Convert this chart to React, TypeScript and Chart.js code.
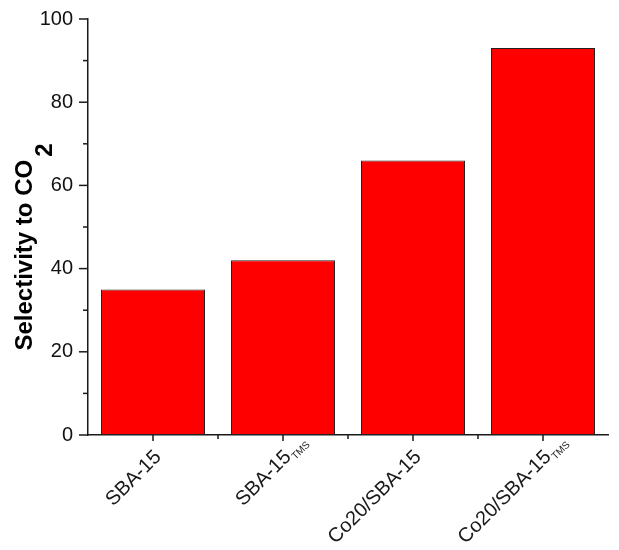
import React, { useEffect, useRef } from "react";
import { Chart, registerables } from "chart.js";

Chart.register(...registerables);

const categories = ["SBA-15", "SBA-15", "Co20/SBA-15", "Co20/SBA-15"];
const categorySubscripts = ["", "TMS", "", "TMS"];
const selectivity = [35, 42, 66, 93];
const yMin = 0;
const yMax = 100;
const yMajorStep = 20;
const yMinorStep = 10;
const yTitleMain = "Selectivity to CO";
const yTitleSub = "2";

const FONT = "'Liberation Sans', Arial, sans-serif";

const customPlugin = {
  id: "originStyle",
  afterDraw(chart: any) {
    const ctx = chart.ctx as CanvasRenderingContext2D;
    const xs = chart.scales.x;
    const ys = chart.scales.y;
    const area = chart.chartArea;
    ctx.save();
    ctx.strokeStyle = "#1a1a1a";
    ctx.lineWidth = 1.5;
    const line = (x1: number, y1: number, x2: number, y2: number) => {
      ctx.beginPath();
      ctx.moveTo(x1, y1);
      ctx.lineTo(x2, y2);
      ctx.stroke();
    };
    // y ticks (major + minor)
    for (let v = yMin; v <= yMax; v += yMinorStep) {
      const py = ys.getPixelForValue(v);
      const len = v % yMajorStep === 0 ? 9 : 5;
      line(area.left - len, py, area.left, py);
    }
    // x ticks
    categories.forEach((_, i) => {
      const px = xs.getPixelForValue(i);
      line(px, area.bottom, px, area.bottom + 6);
      if (i > 0) {
        const b = (xs.getPixelForValue(i - 1) + px) / 2;
        line(b, area.bottom, b, area.bottom + 4);
      }
    });
    // x labels rotated with subscripts
    ctx.fillStyle = "#1a1a1a";
    categories.forEach((label, i) => {
      const px = xs.getPixelForValue(i);
      ctx.save();
      ctx.translate(px + 9, area.bottom + 23);
      ctx.rotate(-Math.PI / 4);
      ctx.font = `20px ${FONT}`;
      ctx.textAlign = "right";
      ctx.textBaseline = "alphabetic";
      ctx.fillText(label, 0, 0);
      const sub = categorySubscripts[i];
      if (sub) {
        ctx.font = `10px ${FONT}`;
        ctx.textAlign = "left";
        ctx.fillText(sub, 1, 4);
      }
      ctx.restore();
    });
    // y title with subscript
    ctx.save();
    ctx.fillStyle = "#000";
    ctx.font = `bold 24px ${FONT}`;
    const wMain = ctx.measureText(yTitleMain).width;
    const wSub = ctx.measureText(yTitleSub).width;
    const total = wMain + 3 + wSub;
    const centerY = (area.top + area.bottom) / 2 + 20;
    ctx.translate(32, centerY + total / 2);
    ctx.rotate(-Math.PI / 2);
    ctx.textAlign = "left";
    ctx.textBaseline = "alphabetic";
    ctx.fillText(yTitleMain, 0, 0);
    ctx.fillText(yTitleSub, wMain + 3, 20);
    ctx.restore();
    ctx.restore();
  },
};

export default function App() {
  const ref = useRef<HTMLCanvasElement | null>(null);
  useEffect(() => {
    document.body.style.margin = "0";
    const canvas = ref.current;
    if (!canvas) return;
    const chart = new Chart(canvas, {
      type: "bar",
      data: {
        labels: categories.map((c, i) => c + categorySubscripts[i]),
        datasets: [
          {
            data: selectivity,
            backgroundColor: "#ff0000",
            borderColor: "#222",
            borderWidth: 1,
            borderSkipped: false,
            categoryPercentage: 1,
            barPercentage: 0.8,
          },
        ],
      },
      options: {
        responsive: false,
        animation: false,
        devicePixelRatio: 1,
        layout: { padding: { top: 4, right: 11, left: 0, bottom: 0 } },
        plugins: {
          legend: { display: false },
          tooltip: { enabled: false },
        },
        scales: {
          x: {
            grid: { display: false },
            border: { display: true, color: "#1a1a1a", width: 1.5 },
            ticks: { display: false },
            afterFit: (s: any) => {
              s.height = 115;
            },
          },
          y: {
            min: yMin,
            max: yMax,
            grid: { display: false },
            border: { display: true, color: "#1a1a1a", width: 1.5 },
            ticks: {
              stepSize: yMajorStep,
              color: "#111",
              padding: 7,
              font: { family: FONT, size: 20 },
            },
            afterFit: (s: any) => {
              s.width = 88;
            },
          },
        },
      },
      plugins: [customPlugin],
    });
    return () => chart.destroy();
  }, []);
  return <canvas ref={ref} width={619} height={550} style={{ display: "block" }} />;
}
